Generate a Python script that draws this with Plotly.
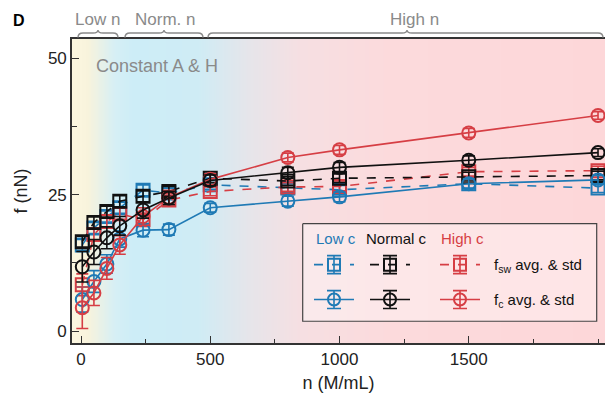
import plotly.graph_objects as go
import numpy as np

# ---------------- data ----------------
n_vals = [5, 50, 100, 150, 240, 340, 500, 800, 1000, 1500, 2000]

fc_low = [5.8, 9.1, 12.3, 16.9, 18.5, 18.6, 22.6, 23.8, 24.6, 27.0, 27.7]
fc_low_err = [2.3, 2.0, 1.7, 1.5, 1.2, 1.0, 0.8, 0.9, 0.9, 0.9, 0.8]
fc_norm = [11.8, 14.5, 17.1, 19.3, 22.2, 24.4, 27.6, 29.0, 30.0, 31.3, 32.7]
fc_norm_err = [2.8, 2.3, 2.0, 1.7, 1.5, 1.2, 1.0, 1.0, 0.9, 0.8, 0.7]
fc_high = [4.3, 7.0, 11.5, 15.8, 21.0, 24.5, 27.8, 31.8, 33.2, 36.3, 39.5]
fc_high_err = [3.8, 2.3, 2.0, 1.7, 1.6, 1.3, 1.0, 0.8, 0.8, 0.8, 0.7]

fsw_low = [15.8, 18.9, 21.0, 22.6, 25.8, 25.3, 26.8, 26.2, 25.9, 27.0, 26.2]
fsw_low_err = [1.0, 1.0, 1.0, 1.0, 1.0, 0.9, 0.8, 0.8, 0.8, 0.8, 0.8]
fsw_norm = [16.4, 19.9, 21.9, 23.8, 24.7, 25.6, 28.0, 27.5, 28.0, 28.3, 28.5]
fsw_norm_err = [1.0, 1.0, 1.0, 1.0, 1.0, 0.9, 0.8, 0.8, 0.8, 0.8, 0.8]
fsw_high = [8.5, 17.7, 20.1, 21.5, 20.4, 24.0, 25.6, 26.4, 26.5, 29.2, 29.4]
fsw_high_err = [2.0, 1.2, 1.2, 1.0, 1.0, 0.9, 0.8, 0.8, 0.8, 0.8, 0.8]

x_ticks = [0, 500, 1000, 1500]
y_ticks = [0, 25, 50]

# ---------------- styling ----------------
BLUE = "#1F7AB5"
BLACK = "#111111"
RED = "#D63E44"
GREY = "#8a8a8a"
FONT = "Liberation Sans"

W, H = 605, 396
L, R, T, B = 72, 605, 39, 343.5


def px(x):
    return (x - L) / (R - L)


def py(y):
    return (B - y) / (B - T)


fig = go.Figure()

# background gradient
bg_x = np.linspace(-40, 2040, 209)
stops = [(-40, "#FCF7E0"), (25, "#F8F3DC"), (130, "#D6EFF5"), (200, "#CDEDF7"),
         (450, "#CFECF5"), (650, "#E6E5EA"), (850, "#F6DFE2"), (1200, "#FCDADC"),
         (2040, "#FDD7D9")]
cs = [[(v + 40) / 2080, c] for v, c in stops]
fig.add_trace(go.Heatmap(x=bg_x, y=[-5, 56], z=[bg_x, bg_x], colorscale=cs,
                         zmin=-40, zmax=2040, zsmooth="best", showscale=False,
                         hoverinfo="skip"))


def add_series(y, err, color, dash, symbol):
    fig.add_trace(go.Scatter(
        x=n_vals, y=y, mode="lines+markers",
        line=dict(color=color, width=1.6, dash=dash),
        marker=dict(symbol=symbol, size=13, color=color,
                    line=dict(color=color, width=2)),
        error_y=dict(type="data", array=err, color=color, thickness=1.6, width=6),
        showlegend=False, hoverinfo="skip"))


add_series(fsw_low, fsw_low_err, BLUE, "dash", "square-open")
add_series(fsw_high, fsw_high_err, RED, "dash", "square-open")
add_series(fsw_norm, fsw_norm_err, BLACK, "dash", "square-open")
add_series(fc_low, fc_low_err, BLUE, "solid", "circle-open")
add_series(fc_high, fc_high_err, RED, "solid", "circle-open")
add_series(fc_norm, fc_norm_err, BLACK, "solid", "circle-open")

# legend box (pixel-coordinate overlay axes)
bx0, bx1, by0, by1 = 302.7, 596.7, 224, 321.7
fig.add_trace(go.Scatter(x=[bx0, bx1, bx1, bx0, bx0], y=[by0, by0, by1, by1, by0],
                         mode="lines", fill="toself", fillcolor="rgba(255,255,255,0.35)",
                         line=dict(color="#444", width=1.2), xaxis="x2", yaxis="y2",
                         showlegend=False, hoverinfo="skip"))

# legend samples
for cx, col in [(334, BLUE), (390, BLACK), (460, RED)]:
    for cy, dash, sym in [(265, "dash", "square-open"), (300, "solid", "circle-open")]:
        fig.add_trace(go.Scatter(x=[cx - 20, cx + 20], y=[cy, cy], mode="lines",
                                 line=dict(color=col, width=1.6, dash=dash),
                                 xaxis="x2", yaxis="y2", showlegend=False,
                                 hoverinfo="skip"))
        fig.add_trace(go.Scatter(x=[cx], y=[cy], mode="markers",
                                 marker=dict(symbol=sym, size=12, color=col,
                                             line=dict(color=col, width=2)),
                                 error_y=dict(type="data", array=[9], color=col,
                                              thickness=1.6, width=7),
                                 xaxis="x2", yaxis="y2", showlegend=False,
                                 hoverinfo="skip"))

shapes = []


def brace(x0, x1, xm, ytop=33.0, ybot=37.5, ypeak=30.0):
    d = (f"M {px(x0)},{py(ybot)} Q {px(x0)},{py(ytop)} {px(x0 + 5)},{py(ytop)} "
         f"L {px(xm - 5)},{py(ytop)} Q {px(xm)},{py(ytop)} {px(xm)},{py(ypeak)} "
         f"Q {px(xm)},{py(ytop)} {px(xm + 5)},{py(ytop)} "
         f"L {px(x1 - 5)},{py(ytop)} Q {px(x1)},{py(ytop)} {px(x1)},{py(ybot)}")
    return dict(type="path", xref="paper", yref="paper", path=d,
                line=dict(color=GREY, width=1.4))


shapes.append(brace(78, 118, 98))
shapes.append(brace(125, 203, 164))
shapes.append(brace(208, 603, 407))

annotations = []


def ann(text, x, y, size, color, xanchor="center", bold=False):
    annotations.append(dict(text=("<b>%s</b>" % text) if bold else text,
                            x=px(x), y=py(y), xref="paper", yref="paper",
                            xanchor=xanchor, yanchor="middle", showarrow=False,
                            font=dict(family=FONT, size=size, color=color)))


ann("D", 19, 20, 16, "#000", bold=True)
ann("Low n", 97, 19, 17, GREY)
ann("Norm. n", 165, 19, 17, GREY)
ann("High n", 414, 19, 17, GREY)
ann("Constant A &amp; H", 94, 66, 18, GREY, xanchor="left")
ann("Low c", 314, 239, 15, BLUE, xanchor="left")
ann("Normal c", 364, 239, 15, BLACK, xanchor="left")
ann("High c", 439, 239, 15, RED, xanchor="left")
ann("f<sub>sw</sub> avg. &amp; std", 492, 266, 15, BLACK, xanchor="left")
ann("f<sub>c</sub> avg. &amp; std", 492, 301, 15, BLACK, xanchor="left")

fig.update_layout(
    width=W, height=H,
    margin=dict(l=L, r=W - R, t=T, b=H - B),
    paper_bgcolor="white", plot_bgcolor="white",
    font=dict(family=FONT, size=17, color="#222"),
    shapes=shapes, annotations=annotations,
    xaxis=dict(range=[-34.8, 2027], tickvals=x_ticks, ticks="inside", ticklen=7,
               tickwidth=1.3, tickcolor="#333", showline=True, linecolor="#333",
               linewidth=1.6, mirror=True, showgrid=False, zeroline=False,
               minor=dict(tickvals=[250, 750, 1250, 1750, 2000], ticks="inside",
                          ticklen=4, tickcolor="#333", showgrid=False),
               title=dict(text="n (M/mL)", font=dict(size=18), standoff=8),
               tickfont=dict(size=17)),
    yaxis=dict(range=[-2.16, 53.5], tickvals=y_ticks, ticks="inside", ticklen=7,
               tickwidth=1.3, tickcolor="#333", showline=True, linecolor="#333",
               linewidth=1.6, showgrid=False, zeroline=False,
               minor=dict(tickvals=[12.5, 37.5], ticks="inside", ticklen=5,
                          tickcolor="#333", showgrid=False),
               title=dict(text="f (nN)", font=dict(size=18), standoff=16),
               tickfont=dict(size=17)),
    xaxis2=dict(range=[L, R], overlaying="x", visible=False, fixedrange=True),
    yaxis2=dict(range=[B, T], overlaying="y", visible=False, fixedrange=True),
)

fig.write_html("out.html")
